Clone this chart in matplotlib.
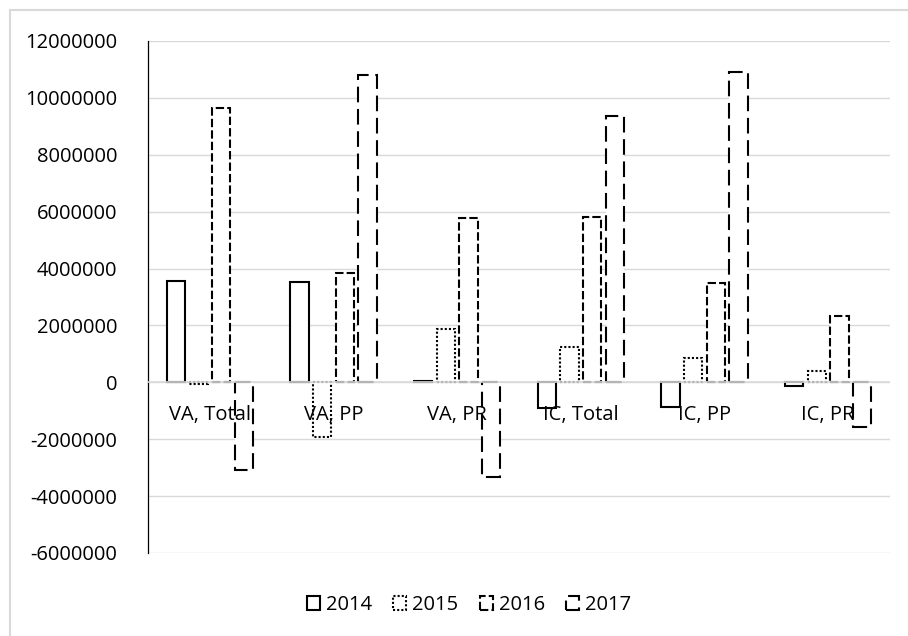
import matplotlib
matplotlib.use("Agg")
import matplotlib.pyplot as plt
from matplotlib.lines import Line2D
import numpy as np

plt.rcParams['font.family'] = ['Open Sans', 'DejaVu Sans']

categories = ["VA, Total", "VA, PP", "VA, PR", "IC, Total", "IC, PP", "IC, PR"]
years = ["2014", "2015", "2016", "2017"]
v2014 = [3580000, 3530000, 50000, -910000, -870000, -130000]
v2015 = [-50000, -1920000, 1890000, 1240000, 870000, 390000]
v2016 = [9640000, 3860000, 5780000, 5810000, 3490000, 2320000]
v2017 = [-3090000, 10820000, -3340000, 9360000, 10910000, -1570000]
series = [v2014, v2015, v2016, v2017]
yticks = [-6000000, -4000000, -2000000, 0, 2000000, 4000000, 6000000,
          8000000, 10000000, 12000000]

styles = ['-', (0, (1, 1)), (0, (4, 1.5)), (0, (7.5, 3.2))]

W, H = 908, 636
fig = plt.figure(figsize=(W / 100, H / 100), dpi=100)
ax = fig.add_axes([148 / W, 1 - 553 / H, (890 - 148) / W, (553 - 41) / H])

x = np.arange(len(categories))
step = 0.183
bw = 0.15
for j, (vals, yr) in enumerate(zip(series, years)):
    ax.bar(x + (j - 1.5) * step, vals, width=bw, facecolor='white',
           edgecolor='black', linewidth=1.5, linestyle=styles[j],
           label=yr, zorder=2)

ax.set_xlim(-0.5, len(categories) - 0.5)
ax.set_ylim(-6000000, 12000000)
ax.set_yticks(yticks)
ax.set_yticklabels([str(v) for v in yticks], fontsize=14.5)
ax.tick_params(axis='y', length=0, pad=22)
ax.set_xticks([])
ax.grid(axis='y', color='#d9d9d9', linewidth=1.0, zorder=0)
ax.set_axisbelow(True)
ax.axhline(0, color='#d9d9d9', linewidth=1.2, zorder=3)
for s in ['top', 'right', 'bottom']:
    ax.spines[s].set_visible(False)
ax.spines['left'].set_color('black')
ax.spines['left'].set_linewidth(0.9)

for i, c in enumerate(categories):
    ax.annotate(c, xy=(i, 0), xytext=(0, -38), textcoords='offset pixels',
                ha='center', va='baseline', fontsize=14.5, zorder=4)

leg = fig.legend(loc='center', bbox_to_anchor=(469 / W, 1 - 605 / H),
                 ncol=4, frameon=False, fontsize=14.5,
                 handlelength=0.65, handleheight=0.65, handletextpad=0.3,
                 columnspacing=1.05, borderpad=0)

# outer chart border (light gray)
fig.add_artist(Line2D([10 / W, 10 / W], [0, 1 - 10 / H], color='#d9d9d9',
                      linewidth=1.5, transform=fig.transFigure))
fig.add_artist(Line2D([10 / W, 1], [1 - 10 / H, 1 - 10 / H], color='#d9d9d9',
                      linewidth=1.5, transform=fig.transFigure))

fig.savefig('out.png', dpi=100)
